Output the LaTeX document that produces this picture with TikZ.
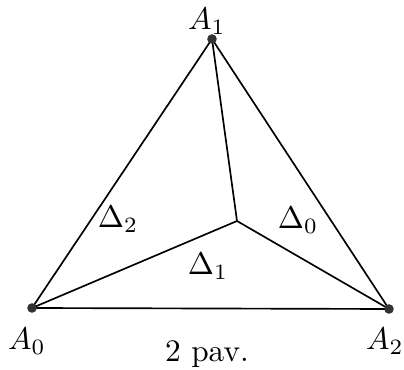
\documentclass[tikz,border=0pt]{standalone}
\usepackage{tikz}
\usetikzlibrary{arrows}

\begin{document}
\begin{tikzpicture}[x=0.75pt,y=-0.75pt,
		lbl/.style={inner sep=0pt,scale=2.35}]
 			\useasboundingbox (0,0) rectangle (404,370);
 			% Vertices of the triangle
 			\path (32,308) coordinate(vertA0);
 			\path (212,39) coordinate(vertA1);
 			\path (389,309) coordinate(vertA2);
 			\path (237,221) coordinate(inner);
 			%% Drawing the edges
 			\draw[line width=1.25pt] (vertA0) -- (vertA1) -- (vertA2) -- cycle;
 			\draw[line width=1.25pt] (inner) -- (vertA0);
 			\draw[line width=1.25pt] (inner) -- (vertA1);
 			\draw[line width=1.25pt] (inner) -- (vertA2);
 			\fill[black!80] (vertA0) circle (3.6pt);
 			\fill[black!80] (vertA1) circle (3.6pt);
 			\fill[black!80] (vertA2) circle (3.6pt);
 			%% Labels
 			\path (207,21) node(labA1)[lbl] {$A_1$};
 			\path (27,341) node(labA0)[lbl] {$A_0$};
 			\path (385,341) node(labA2)[lbl] {$A_2$};
 			\path (118,219) node(labD2)[lbl] {$\Delta_2$};
 			\path (298,220) node(labD0)[lbl] {$\Delta_0$};
 			\path (208,266) node(labD1)[lbl] {$\Delta_1$};
 			\path (207,362) node(labPav)[lbl,anchor=base] {2 pav.};
 		\end{tikzpicture}
\end{document}
